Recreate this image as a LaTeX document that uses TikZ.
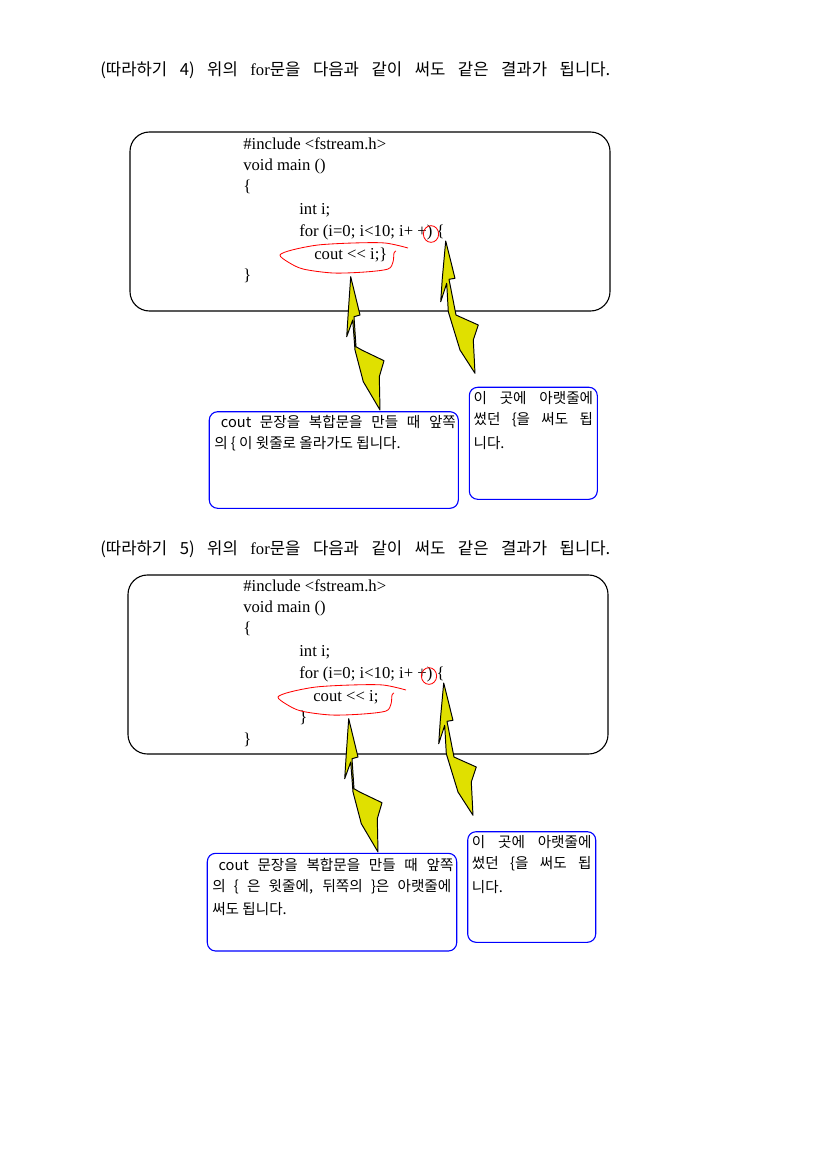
\documentclass[tikz,border=0pt]{standalone}
\usepackage{fontspec}
\setmainfont{Liberation Serif}
\newfontfamily\kr{Noto Sans CJK KR}
\usetikzlibrary{fit}
\definecolor{calloutyellow}{RGB}{224,224,0}

\begin{document}
\begin{tikzpicture}[x=0.7195pt, y=-0.7195pt,
    head/.style = {anchor=west, inner sep=0, font=\kr\fontsize{12}{14}\selectfont},
    codebox/.style = {draw, rounded corners=14pt, inner sep=0, line width=0.8pt},
    codeline/.style = {anchor=west, inner sep=0, font=\fontsize{12}{14}\selectfont},
    notebox/.style = {draw=blue, rounded corners=6pt, inner sep=0, line width=0.8pt},
    noteline/.style = {anchor=west, inner sep=0, font=\kr\fontsize{10.5}{12}\selectfont},
    callout/.style = {fill=calloutyellow, draw=black, line width=0.7pt, line join=round},
    redring/.style = {draw=red, line width=0.6pt}]
    \useasboundingbox (0,0) rectangle (827,1169);

    \node[head](head4) at (100,70) {\makebox[367pt][s]{(따라하기 4) 위의 {\rmfamily for}문을 다음과 같이 써도 같은 결과가 됩니다.}};
    \node[codebox, fit={(130,132) (610,311)}](code4) {};
    \node[codeline](inc4) at (243,144) {\#include <fstream.h>};
    \node[codeline](main4) at (243,166) {void main ()};
    \node[codeline](open4) at (243,187) {\{};
    \node[codeline](int4) at (299,210) {int i;};
    \node[codeline](for4) at (299,232) {for (i=0; i<10; i+ +) \{};
    \node[codeline](cout4) at (314,255) {cout <{}< i;\}};
    \node[codeline](close4) at (243,276) {\}};

    \node[notebox, fit={(209.3,411.7) (458.3,508.3)}](left4) {};
    \node[noteline](l4a) at (220.7,421.7) {\makebox[169pt][s]{cout 문장을 복합문을 만들 때 앞쪽}};
    \node[noteline](l4b) at (214,443.3) {의 \{ 이 윗줄로 올라가도 됩니다.};
    \node[notebox, fit={(469.3,387.3) (597.3,499.3)}](right4) {};
    \node[noteline](r4a) at (473.3,398.3) {\makebox[86pt][s]{이 곳에 아랫줄에}};
    \node[noteline](r4b) at (473.3,420) {\makebox[86pt][s]{썼던 \{을 써도 됩}};
    \node[noteline](r4c) at (473.3,443.3) {니다.};

    \node[head](head5) at (100,549) {\makebox[367pt][s]{(따라하기 5) 위의 {\rmfamily for}문을 다음과 같이 써도 같은 결과가 됩니다.}};
    \node[codebox, fit={(128,575) (608,754)}](code5) {};
    \node[codeline](inc5) at (243,586) {\#include <fstream.h>};
    \node[codeline](main5) at (243,608) {void main ()};
    \node[codeline](open5) at (243,629) {\{};
    \node[codeline](int5) at (299,652) {int i;};
    \node[codeline](for5) at (299,674) {for (i=0; i<10; i+ +) \{};
    \node[codeline](cout5) at (313,697) {cout <{}< i;};
    \node[codeline](inner5) at (299,718) {\}};
    \node[codeline](close5) at (243,740) {\}};

    \node[notebox, fit={(207.3,853.3) (456.7,951)}](left5) {};
    \node[noteline](l5a) at (218.3,865) {\makebox[169pt][s]{cout 문장을 복합문을 만들 때 앞쪽}};
    \node[noteline](l5b) at (212,886.7) {\makebox[172pt][s]{의 \{ 은 윗줄에, 뒤쪽의 \}은 아랫줄에}};
    \node[noteline](l5c) at (212,909) {써도 됩니다.};
    \node[notebox, fit={(467.7,831.7) (595.7,942.3)}](right5) {};
    \node[noteline](r5a) at (471.7,841.7) {\makebox[86pt][s]{이 곳에 아랫줄에}};
    \node[noteline](r5b) at (471.7,864) {\makebox[86pt][s]{썼던 \{을 써도 됩}};
    \node[noteline](r5c) at (471.7,886.7) {니다.};

    \foreach \dx/\dy in {0/0, -2/442} {
        \begin{scope}[shift={(\dx,\dy)}]
            \draw[redring] plot[smooth] coordinates {(408,248) (385,243) (353,243) (318,245) (292,250) (280,255) (288,262) (303,269) (333,273) (365,272) (388,269) (393,262) (394,253) (396,251)};
            \draw[redring] (431,234) ellipse [x radius=5.5pt, y radius=6pt];
            \filldraw[callout] (350.7,276.7) -- (360,315) -- (354,316.7) -- (356,346.7) -- (361.7,350) -- (384,360.7) -- (379.3,376.7) -- (380,410) -- (363.3,381.7) -- (355,350) -- (352.7,320) -- (346.7,336.7) -- (348.3,311.7) -- cycle;
            \filldraw[callout] (445.7,241) -- (455,278.3) -- (449,279.3) -- (456,315) -- (463.3,318.3) -- (478.3,325) -- (473.3,340) -- (475,373.3) -- (460,350) -- (448.3,311.7) -- (446.7,283.3) -- (440.7,301.7) -- (442.3,278.3) -- cycle;
        \end{scope}
    }
\end{tikzpicture}
\end{document}
